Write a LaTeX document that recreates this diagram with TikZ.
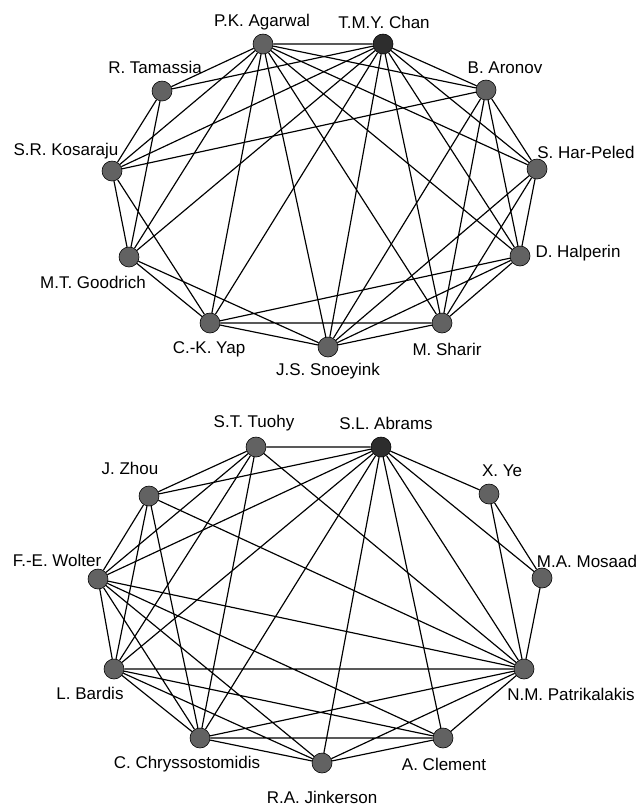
\documentclass[tikz,border=0pt]{standalone}
\usepackage{fontspec}
\setmainfont{Liberation Sans}
\usepackage{tikz}
\usepackage{xcolor}
\definecolor{vgray}{RGB}{98,98,98}
\definecolor{vdark}{RGB}{45,45,45}

\begin{document}
\begin{tikzpicture}[x=0.03cm,y=-0.03cm,line width=1pt,
vtx/.style={shape=circle,draw=black,fill=vgray,minimum size=0.6cm,inner sep=0pt,line width=0.5pt},
hub/.style={vtx,fill=vdark},
lbl/.style={font=\fontsize{14.5}{16}\selectfont,inner sep=0pt}]
\useasboundingbox (0,0) rectangle (643,806);
%upper graph
\node[vtx](agarwal) at (263,44){};
\node[hub](chan) at (383,44){};
\node[vtx](tamassia) at (162,91){};
\node[vtx](aronov) at (486,90){};
\node[vtx](kosaraju) at (112,171){};
\node[vtx](harpeled) at (537,169){};
\node[vtx](goodrich) at (129,257){};
\node[vtx](halperin) at (520,256){};
\node[vtx](yap) at (210,323){};
\node[vtx](snoeyink) at (328,347){};
\node[vtx](sharir) at (442,323){};
\node[lbl](agarwal-l) at (262,22){P.K. Agarwal};
\node[lbl](chan-l) at (384,22){T.M.Y. Chan};
\node[lbl](tamassia-l) at (155,67){R. Tamassia};
\node[lbl](aronov-l) at (505,68){B. Aronov};
\node[lbl](kosaraju-l) at (66,151){S.R. Kosaraju};
\node[lbl](harpeled-l) at (586,152){S. Har-Peled};
\node[lbl](goodrich-l) at (93,282){M.T. Goodrich};
\node[lbl](halperin-l) at (578,253){D. Halperin};
\node[lbl](yap-l) at (209,349){C.-K. Yap};
\node[lbl](snoeyink-l) at (328,371){J.S. Snoeyink};
\node[lbl](sharir-l) at (447,349){M. Sharir};
\draw(agarwal)--(chan) (agarwal)--(tamassia) (agarwal)--(kosaraju) (agarwal)--(goodrich)
(agarwal)--(yap) (agarwal)--(snoeyink) (agarwal)--(sharir) (agarwal)--(halperin)
(agarwal)--(harpeled) (agarwal)--(aronov);
\draw(chan)--(tamassia) (chan)--(kosaraju) (chan)--(goodrich) (chan)--(yap)
(chan)--(snoeyink) (chan)--(sharir) (chan)--(halperin) (chan)--(harpeled) (chan)--(aronov);
\draw(tamassia)--(kosaraju) (tamassia)--(goodrich)
(kosaraju)--(aronov) (kosaraju)--(goodrich) (kosaraju)--(yap)
(goodrich)--(yap) (goodrich)--(snoeyink)
(yap)--(snoeyink) (yap)--(sharir) (yap)--(halperin);
\draw(snoeyink)--(aronov) (snoeyink)--(harpeled) (snoeyink)--(halperin) (snoeyink)--(sharir)
(sharir)--(aronov) (sharir)--(harpeled) (sharir)--(halperin)
(halperin)--(aronov) (halperin)--(harpeled) (harpeled)--(aronov);
%lower graph
\node[vtx](tuohy) at (256,447){};
\node[hub](abrams) at (381,447){};
\node[vtx](zhou) at (149,496){};
\node[vtx](ye) at (489,494){};
\node[vtx](wolter) at (98,579){};
\node[vtx](mosaad) at (542,578){};
\node[vtx](bardis) at (114,669){};
\node[vtx](patrik) at (524,669){};
\node[vtx](chryss) at (200,738){};
\node[vtx](clement) at (443,738){};
\node[vtx](jinker) at (322,763){};
\node[lbl](tuohy-l) at (254,423){S.T. Tuohy};
\node[lbl](abrams-l) at (386,423){S.L. Abrams};
\node[lbl](zhou-l) at (130,468){J. Zhou};
\node[lbl](ye-l) at (502,471){X. Ye};
\node[lbl](wolter-l) at (57,560){F.-E. Wolter};
\node[lbl](mosaad-l) at (587,561){M.A. Mosaad};
\node[lbl](bardis-l) at (90,693){L. Bardis};
\node[lbl](patrik-l) at (571,694){N.M. Patrikalakis};
\node[lbl](chryss-l) at (187,764){C. Chryssostomidis};
\node[lbl](clement-l) at (444,764){A. Clement};
\node[lbl](jinker-l) at (322,797){R.A. Jinkerson};
\draw(tuohy)--(abrams) (tuohy)--(zhou) (tuohy)--(wolter) (tuohy)--(bardis)
(tuohy)--(chryss) (tuohy)--(patrik);
\draw(abrams)--(zhou) (abrams)--(wolter) (abrams)--(bardis) (abrams)--(chryss)
(abrams)--(jinker) (abrams)--(clement) (abrams)--(patrik) (abrams)--(mosaad) (abrams)--(ye);
\draw(zhou)--(wolter) (zhou)--(bardis) (zhou)--(chryss) (zhou)--(patrik)
(ye)--(mosaad) (ye)--(patrik) (mosaad)--(patrik);
\draw(wolter)--(bardis) (wolter)--(chryss) (wolter)--(jinker) (wolter)--(clement) (wolter)--(patrik)
(bardis)--(chryss) (bardis)--(jinker) (bardis)--(clement) (bardis)--(patrik)
(chryss)--(jinker) (chryss)--(clement) (chryss)--(patrik)
(jinker)--(clement) (jinker)--(patrik) (clement)--(patrik);
\end{tikzpicture}
\end{document}
